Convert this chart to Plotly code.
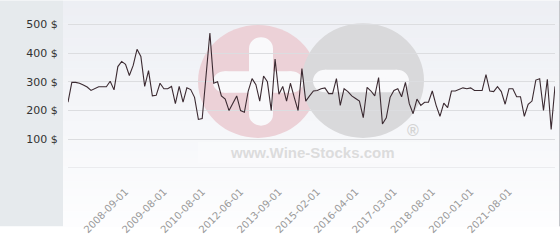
import plotly.graph_objects as go

dates = [
    "2007-06-01", "2007-07-01", "2007-08-01", "2007-09-01", "2007-10-01", "2007-11-01", "2007-12-01",
    "2008-01-01", "2008-02-01", "2008-03-01", "2008-04-01", "2008-05-01", "2008-06-01", "2008-07-01", "2008-08-01",
    "2008-09-01", "2008-10-01", "2008-11-01", "2008-12-01", "2009-01-01", "2009-02-01", "2009-03-01", "2009-04-01", "2009-05-01", "2009-07-01",
    "2009-08-01", "2009-09-01", "2009-10-01", "2009-11-01", "2009-12-01", "2010-01-01", "2010-02-01", "2010-03-01", "2010-05-01", "2010-06-01",
    "2010-08-01", "2010-10-01", "2010-12-01", "2011-02-01", "2011-04-01", "2011-06-01", "2011-08-01", "2011-10-01", "2011-12-01", "2012-03-01",
    "2012-06-01", "2012-07-01", "2012-09-01", "2012-10-01", "2012-12-01", "2013-01-01", "2013-03-01", "2013-04-01", "2013-06-01", "2013-07-01",
    "2013-09-01", "2013-10-01", "2013-12-01", "2014-02-01", "2014-03-01", "2014-05-01", "2014-07-01", "2014-08-01", "2014-10-01", "2014-12-01",
    "2015-02-01", "2015-03-01", "2015-05-01", "2015-06-01", "2015-08-01", "2015-09-01", "2015-10-01", "2015-12-01", "2016-01-01", "2016-02-01",
    "2016-04-01", "2016-05-01", "2016-06-01", "2016-07-01", "2016-08-01", "2016-09-01", "2016-10-01", "2016-11-01", "2017-01-01", "2017-02-01",
    "2017-03-01", "2017-04-01", "2017-06-01", "2017-08-01", "2017-09-01", "2017-11-01", "2018-01-01", "2018-02-01", "2018-04-01", "2018-06-01",
    "2018-08-01", "2018-09-01", "2018-11-01", "2019-01-01", "2019-02-01", "2019-04-01", "2019-06-01", "2019-07-01", "2019-09-01", "2019-11-01",
    "2020-01-01", "2020-03-01", "2020-05-01", "2020-07-01", "2020-09-01", "2020-11-01", "2021-01-01", "2021-03-01", "2021-05-01", "2021-06-01",
    "2021-08-01", "2021-09-01", "2021-10-01", "2021-11-01", "2021-12-01", "2022-01-01", "2022-02-01", "2022-03-01", "2022-04-01", "2022-05-01",
    "2022-06-01", "2022-07-01", "2022-08-01",
]

prices = [
    229, 298, 298, 295, 289, 282, 270, 276, 283, 283,
    283, 302, 272, 353, 371, 361, 322, 357, 413, 388,
    284, 339, 251, 253, 295, 276, 276, 284, 224, 284,
    229, 279, 273, 246, 169, 172, 317, 470, 295, 300,
    251, 240, 200, 224, 251, 200, 194, 268, 311, 290,
    233, 320, 300, 200, 379, 257, 284, 233, 295, 246,
    200, 346, 233, 251, 268, 270, 276, 279, 259, 259,
    311, 218, 276, 266, 251, 242, 233, 175, 281, 268,
    251, 315, 153, 175, 246, 270, 276, 248, 298, 224,
    189, 240, 218, 229, 229, 268, 218, 180, 226, 210,
    268, 268, 273, 279, 276, 279, 270, 270, 270, 325,
    268, 266, 283, 266, 222, 276, 276, 248, 248, 180,
    222, 233, 306, 311, 200, 309, 134, 284,
]

x_tick_labels = ["2008-09-01", "2009-08-01", "2010-08-01", "2012-06-01", "2013-09-01",
                 "2015-02-01", "2016-04-01", "2017-03-01", "2018-08-01", "2020-01-01", "2021-08-01"]
y_tick_values = [0, 100, 200, 300, 400, 500]
y_tick_labels = ["", "100 $", "200 $", "300 $", "400 $", "500 $"]

W, H = 560, 240
ML, MR, MT, MB = 68, 5, 10, 62
PW = W - ML - MR
PH = H - MT - MB


def px(x):
    return (x - ML) / PW


def py(y):
    return (H - MB - y) / PH


shapes = []
# gradient background for the right panel
n_bands = 30
top = (237, 239, 244)
bot = (253, 253, 254)
for k in range(n_bands):
    t = k / (n_bands - 1)
    c = tuple(round(top[j] + (bot[j] - top[j]) * t) for j in range(3))
    y0 = H * k / n_bands
    y1 = H * (k + 1) / n_bands + 0.5
    shapes.append(dict(type="rect", xref="paper", yref="paper", layer="below",
                       x0=px(63), x1=px(W), y0=py(y1), y1=py(y0),
                       fillcolor="rgb(%d,%d,%d)" % c, line=dict(width=0)))
# left panel
shapes.append(dict(type="rect", xref="paper", yref="paper", layer="below",
                   x0=px(0), x1=px(63), y0=py(H), y1=py(0),
                   fillcolor="#e6eaed", line=dict(width=0)))
# right border
shapes.append(dict(type="line", xref="paper", yref="paper", layer="below",
                   x0=px(559.5), x1=px(559.5), y0=py(H), y1=py(0),
                   line=dict(color="#c4c6ca", width=1)))


def circle(cx, cy, r, color):
    return dict(type="circle", xref="paper", yref="paper", layer="below",
                x0=px(cx - r), x1=px(cx + r), y0=py(cy + r), y1=py(cy - r),
                fillcolor=color, line=dict(width=0))


def rect(x0, y0, x1, y1, color):
    return dict(type="rect", xref="paper", yref="paper", layer="below",
                x0=px(x0), x1=px(x1), y0=py(y1), y1=py(y0),
                fillcolor=color, line=dict(width=0))


def hbar(x0, x1, yc, h, color):
    r = h / 2
    return [rect(x0 + r, yc - r, x1 - r, yc + r, color),
            circle(x0 + r, yc, r, color), circle(x1 - r, yc, r, color)]


def vbar(xc, y0, y1, w, color):
    r = w / 2
    return [rect(xc - r, y0 + r, xc + r, y1 - r, color),
            circle(xc, y0 + r, r, color), circle(xc, y1 - r, r, color)]


wm = "rgba(249,249,251,1)"
shapes.append(circle(258, 86, 60, "#ecd1d7"))
shapes.append(circle(363, 85, 61, "#d9d9db"))
shapes += hbar(213, 303, 86.5, 23, wm)
shapes += vbar(261, 39, 133, 24, wm)
shapes += hbar(313, 409, 85.5, 24, wm)
shapes.append(rect(198, 150, 430, 173, "rgba(255,255,255,0.25)"))
# baseline grid line at zero
shapes.append(dict(type="line", xref="paper", yref="y", layer="below",
                   x0=0, x1=1, y0=0, y1=0, line=dict(color="#dcdde0", width=1)))

fig = go.Figure()
fig.add_trace(go.Scatter(x=dates, y=prices, mode="lines",
                         line=dict(color="#3b2a31", width=1.1), hoverinfo="skip"))

fig.update_layout(
    width=W, height=H,
    margin=dict(l=ML, r=MR, t=MT, b=MB, pad=0),
    paper_bgcolor="white",
    plot_bgcolor="rgba(0,0,0,0)",
    showlegend=False,
    shapes=shapes,
    font=dict(family="DejaVu Sans"),
    annotations=[
        dict(text="<b>www.Wine-Stocks.com</b>", xref="paper", yref="paper",
             x=px(312), y=py(161), showarrow=False,
             font=dict(family="Liberation Sans", size=15, color="#dcdcdc"),
             xanchor="center", yanchor="middle"),
        dict(text="<b>®</b>", xref="paper", yref="paper",
             x=px(413), y=py(138), showarrow=False,
             font=dict(family="Liberation Sans", size=16, color="#d4d4d4"),
             xanchor="center", yanchor="middle"),
    ],
)

fig.update_xaxes(type="category", range=[0, len(dates) - 1],
                 tickmode="array", tickvals=x_tick_labels, ticktext=x_tick_labels,
                 tickangle=-45, tickfont=dict(size=10, color="#999999", family="DejaVu Sans"),
                 showgrid=False, zeroline=False, showline=False,
                 ticks="outside", ticklen=13, tickcolor="rgba(0,0,0,0)")
fig.update_yaxes(range=[0, 550], tickmode="array", tickvals=y_tick_values, ticktext=y_tick_labels,
                 tickfont=dict(size=11, color="#333333", family="DejaVu Sans"),
                 showgrid=True, gridcolor="#dcdde0", gridwidth=1,
                 zeroline=False, showline=False,
                 ticks="outside", ticklen=7, tickcolor="rgba(0,0,0,0)")

fig.write_html("out.html")
